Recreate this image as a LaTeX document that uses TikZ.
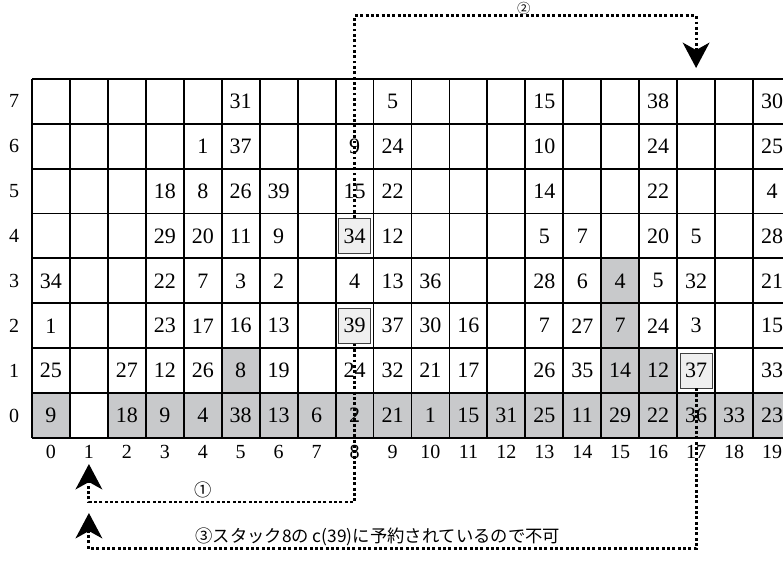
\documentclass[tikz,border=0pt]{standalone}
\usepackage{fontspec}
\setmainfont{Liberation Serif}
\newfontfamily\jpfont{Noto Sans CJK JP}
\usetikzlibrary{arrows.meta}
\definecolor{cellgray}{RGB}{200,201,203}
\definecolor{boxgray}{RGB}{239,239,239}

\begin{document}
\begin{tikzpicture}[x=28.46pt,y=33.675pt,
  every node/.style={font=\fontsize{16.5}{18}\selectfont,inner sep=0pt},
  axlab/.style={font=\fontsize{15}{17}\selectfont},
  rule/.style={line width=1.4pt},
  hilite/.style={draw=black!75,fill=boxgray,line width=.7pt,minimum width=24pt,minimum height=26pt},
  route/.style={line width=2.2pt,dash pattern=on 2.2pt off 1.8pt,-{Stealth[length=19pt,width=20pt,inset=5.5pt]}},
  note/.style={font=\jpfont\fontsize{13}{15}\selectfont}]
\clip (-0.843,-2.739) rectangle (19.79,9.755);
% shaded cells
\fill[cellgray] (0,0) rectangle (1,1);
\fill[cellgray] (2,0) rectangle (20,1);
\fill[cellgray] (5,1) rectangle (6,2);
\fill[cellgray] (15,1) rectangle (16,4);
\fill[cellgray] (16,1) rectangle (17,2);
% bay lines
\draw[rule] (0,0)--(20,0);
\draw[rule] (0,1)--(20,1);
\draw[rule] (0,2)--(20,2);
\draw[rule] (0,3)--(20,3);
\draw[rule] (0,4)--(20,4);
\draw[rule] (0,5)--(20,5);
\draw[rule] (0,6)--(20,6);
\draw[rule] (0,7)--(20,7);
\draw[rule] (0,8)--(20,8);
\draw[rule] (0,0)--(0,8);
\draw[rule] (1,0)--(1,8);
\draw[rule] (2,0)--(2,8);
\draw[rule] (3,0)--(3,8);
\draw[rule] (4,0)--(4,8);
\draw[rule] (5,0)--(5,8);
\draw[rule] (6,0)--(6,8);
\draw[rule] (7,0)--(7,8);
\draw[rule] (8,0)--(8,8);
\draw[rule] (9,0)--(9,8);
\draw[rule] (10,0)--(10,8);
\draw[rule] (11,0)--(11,8);
\draw[rule] (12,0)--(12,8);
\draw[rule] (13,0)--(13,8);
\draw[rule] (14,0)--(14,8);
\draw[rule] (15,0)--(15,8);
\draw[rule] (16,0)--(16,8);
\draw[rule] (17,0)--(17,8);
\draw[rule] (18,0)--(18,8);
\draw[rule] (19,0)--(19,8);
\draw[rule] (20,0)--(20,8);
% row / column numbers
\node[axlab] (y0) at (-0.474,0.5) {0};
\node[axlab] (y1) at (-0.474,1.5) {1};
\node[axlab] (y2) at (-0.474,2.5) {2};
\node[axlab] (y3) at (-0.474,3.5) {3};
\node[axlab] (y4) at (-0.474,4.5) {4};
\node[axlab] (y5) at (-0.474,5.5) {5};
\node[axlab] (y6) at (-0.474,6.5) {6};
\node[axlab] (y7) at (-0.474,7.5) {7};
\node[axlab] (x0) at (0.5,-0.312) {0};
\node[axlab] (x1) at (1.5,-0.312) {1};
\node[axlab] (x2) at (2.5,-0.312) {2};
\node[axlab] (x3) at (3.5,-0.312) {3};
\node[axlab] (x4) at (4.5,-0.312) {4};
\node[axlab] (x5) at (5.5,-0.312) {5};
\node[axlab] (x6) at (6.5,-0.312) {6};
\node[axlab] (x7) at (7.5,-0.312) {7};
\node[axlab] (x8) at (8.5,-0.312) {8};
\node[axlab] (x9) at (9.5,-0.312) {9};
\node[axlab] (x10) at (10.5,-0.312) {10};
\node[axlab] (x11) at (11.5,-0.312) {11};
\node[axlab] (x12) at (12.5,-0.312) {12};
\node[axlab] (x13) at (13.5,-0.312) {13};
\node[axlab] (x14) at (14.5,-0.312) {14};
\node[axlab] (x15) at (15.5,-0.312) {15};
\node[axlab] (x16) at (16.5,-0.312) {16};
\node[axlab] (x17) at (17.5,-0.312) {17};
\node[axlab] (x18) at (18.5,-0.312) {18};
\node[axlab] (x19) at (19.5,-0.312) {19};
% tier 7
\node (c5r7) at (5.5,7.5) {31};
\node (c9r7) at (9.5,7.5) {5};
\node (c13r7) at (13.5,7.5) {15};
\node (c16r7) at (16.5,7.5) {38};
\node (c19r7) at (19.5,7.5) {30};
% tier 6
\node (c4r6) at (4.5,6.5) {1};
\node (c5r6) at (5.5,6.5) {37};
\node (c8r6) at (8.5,6.5) {9};
\node (c9r6) at (9.5,6.5) {24};
\node (c13r6) at (13.5,6.5) {10};
\node (c16r6) at (16.5,6.5) {24};
\node (c19r6) at (19.5,6.5) {25};
% tier 5
\node (c3r5) at (3.5,5.5) {18};
\node (c4r5) at (4.5,5.5) {8};
\node (c5r5) at (5.5,5.5) {26};
\node (c6r5) at (6.5,5.5) {39};
\node (c8r5) at (8.5,5.5) {15};
\node (c9r5) at (9.5,5.5) {22};
\node (c13r5) at (13.5,5.5) {14};
\node (c16r5) at (16.5,5.5) {22};
\node (c19r5) at (19.5,5.5) {4};
% tier 4
\node (c3r4) at (3.5,4.5) {29};
\node (c4r4) at (4.5,4.5) {20};
\node (c5r4) at (5.5,4.5) {11};
\node (c6r4) at (6.5,4.5) {9};
\node[hilite] (b34) at (8.5,4.5) {34};
\node (c9r4) at (9.5,4.5) {12};
\node (c13r4) at (13.5,4.5) {5};
\node (c14r4) at (14.5,4.5) {7};
\node (c16r4) at (16.5,4.5) {20};
\node (c17r4) at (17.5,4.5) {5};
\node (c19r4) at (19.5,4.5) {28};
% tier 3
\node (c0r3) at (0.5,3.5) {34};
\node (c3r3) at (3.5,3.5) {22};
\node (c4r3) at (4.5,3.5) {7};
\node (c5r3) at (5.5,3.5) {3};
\node (c6r3) at (6.5,3.5) {2};
\node (c8r3) at (8.5,3.5) {4};
\node (c9r3) at (9.5,3.5) {13};
\node (c10r3) at (10.5,3.5) {36};
\node (c13r3) at (13.5,3.5) {28};
\node (c14r3) at (14.5,3.5) {6};
\node (c15r3) at (15.5,3.5) {4};
\node (c16r3) at (16.5,3.5) {5};
\node (c17r3) at (17.5,3.5) {32};
\node (c19r3) at (19.5,3.5) {21};
% tier 2
\node (c0r2) at (0.5,2.5) {1};
\node (c3r2) at (3.5,2.5) {23};
\node (c4r2) at (4.5,2.5) {17};
\node (c5r2) at (5.5,2.5) {16};
\node (c6r2) at (6.5,2.5) {13};
\node[hilite] (b39) at (8.5,2.5) {39};
\node (c9r2) at (9.5,2.5) {37};
\node (c10r2) at (10.5,2.5) {30};
\node (c11r2) at (11.5,2.5) {16};
\node (c13r2) at (13.5,2.5) {7};
\node (c14r2) at (14.5,2.5) {27};
\node (c15r2) at (15.5,2.5) {7};
\node (c16r2) at (16.5,2.5) {24};
\node (c17r2) at (17.5,2.5) {3};
\node (c19r2) at (19.5,2.5) {15};
% tier 1
\node (c0r1) at (0.5,1.5) {25};
\node (c2r1) at (2.5,1.5) {27};
\node (c3r1) at (3.5,1.5) {12};
\node (c4r1) at (4.5,1.5) {26};
\node (c5r1) at (5.5,1.5) {8};
\node (c6r1) at (6.5,1.5) {19};
\node (c8r1) at (8.5,1.5) {24};
\node (c9r1) at (9.5,1.5) {32};
\node (c10r1) at (10.5,1.5) {21};
\node (c11r1) at (11.5,1.5) {17};
\node (c13r1) at (13.5,1.5) {26};
\node (c14r1) at (14.5,1.5) {35};
\node (c15r1) at (15.5,1.5) {14};
\node (c16r1) at (16.5,1.5) {12};
\node[hilite] (b37) at (17.5,1.5) {37};
\node (c19r1) at (19.5,1.5) {33};
% tier 0
\node (c0r0) at (0.5,0.5) {9};
\node (c2r0) at (2.5,0.5) {18};
\node (c3r0) at (3.5,0.5) {9};
\node (c4r0) at (4.5,0.5) {4};
\node (c5r0) at (5.5,0.5) {38};
\node (c6r0) at (6.5,0.5) {13};
\node (c7r0) at (7.5,0.5) {6};
\node (c8r0) at (8.5,0.5) {2};
\node (c9r0) at (9.5,0.5) {21};
\node (c10r0) at (10.5,0.5) {1};
\node (c11r0) at (11.5,0.5) {15};
\node (c12r0) at (12.5,0.5) {31};
\node (c13r0) at (13.5,0.5) {25};
\node (c14r0) at (14.5,0.5) {11};
\node (c15r0) at (15.5,0.5) {29};
\node (c16r0) at (16.5,0.5) {22};
\node (c17r0) at (17.5,0.5) {36};
\node (c18r0) at (18.5,0.5) {33};
\node (c19r0) at (19.5,0.5) {23};
% moves
\coordinate (top2) at (8.5,9.40);
\coordinate (tip2) at (17.5,8.24);
\coordinate (low1) at (8.5,-1.425);
\coordinate (tip1) at (1.5,-0.579);
\coordinate (low3) at (17.5,-2.47);
\coordinate (tip3) at (1.5,-1.67);
\draw[route] (b34.north) -- (top2) -| (tip2);
\draw[route] (b39.south) -- (low1) -| (tip1);
\draw[route] (b37.south) -- (low3) -| (tip3);
\node[note] (l1) at (4.5,-1.158) {①};
\node[note,font=\jpfont\fontsize{10}{12}\selectfont] (l2) at (12.96,9.577) {②};
\node[note,anchor=west] (l3) at (4.3,-2.205) {③スタック8の c(39)に予約されているので不可};
\end{tikzpicture}
\end{document}
